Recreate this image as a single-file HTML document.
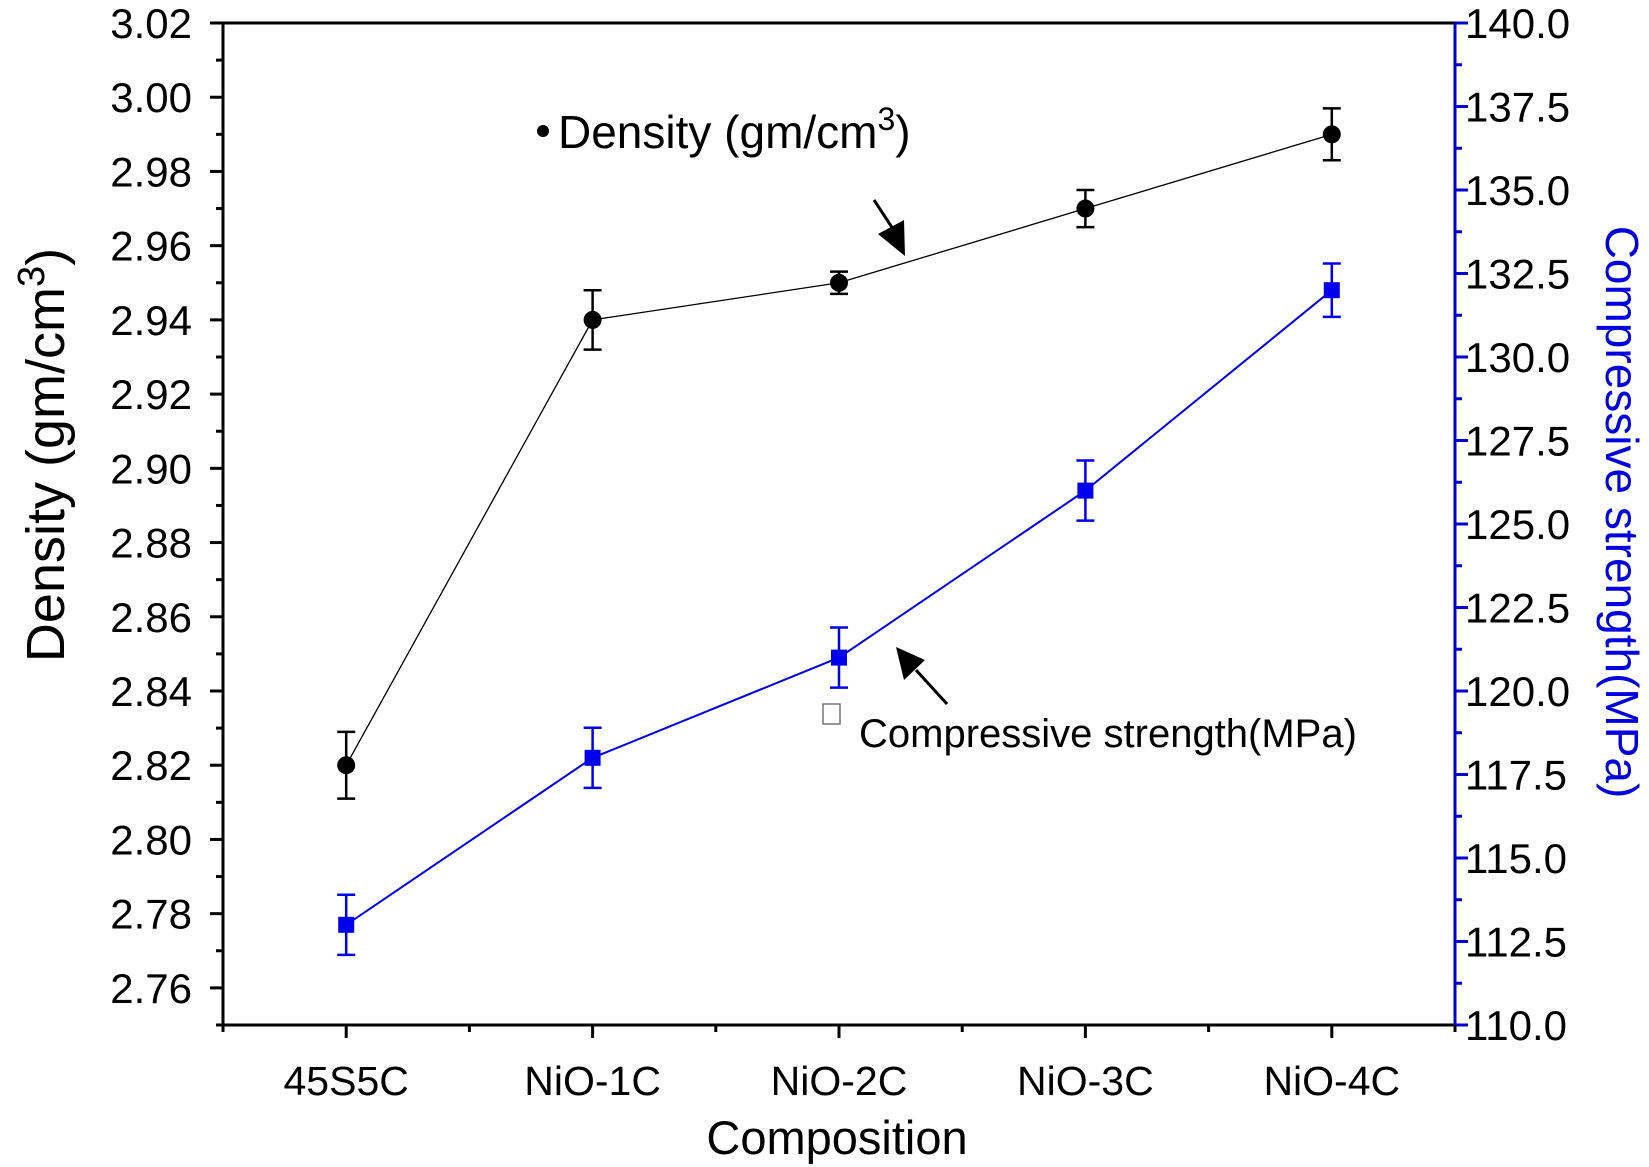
<!DOCTYPE html>
<html><head><meta charset="utf-8"><style>
html,body{margin:0;padding:0;background:#fff}
svg{display:block;font-family:"Liberation Sans",Arial,sans-serif}
</style></head><body>
<svg id="chart" width="1649" height="1167" viewBox="0 0 1649 1167">
<g id="axes"></g><g id="marks"></g>
<text x="558" y="148" font-size="46" fill="#000">Density (gm/cm<tspan dy="-18" font-size="32">3</tspan><tspan dy="18">)</tspan></text>
<circle cx="543" cy="131" r="6" fill="#000"/>
<rect x="823" y="704" width="17" height="20" fill="none" stroke="#777" stroke-width="1.5"/>
<text x="859" y="747" font-size="40" fill="#000">Compressive strength(MPa)</text>
<g>
<line x1="874" y1="200" x2="895" y2="232" stroke="#000" stroke-width="3"/>
<polygon points="905,256 878,234 904,220" fill="#000"/>
</g>
<g>
<line x1="947" y1="704" x2="916" y2="670" stroke="#000" stroke-width="3"/>
<polygon points="896,647 925,660 904,680" fill="#000"/>
</g>
<text transform="translate(64,455) rotate(-90)" text-anchor="middle" font-size="54" fill="#000">Density (gm/cm<tspan dy="-20" font-size="38">3</tspan><tspan dy="20">)</tspan></text>
<text transform="translate(1606,512) rotate(90)" text-anchor="middle" font-size="46" fill="#0000e0">Compressive strength(MPa)</text>
<text x="837" y="1154" text-anchor="middle" font-size="47" fill="#000">Composition</text>
</svg>
<script>
const categories=["45S5C","NiO-1C","NiO-2C","NiO-3C","NiO-4C"];
const density=[2.82,2.94,2.95,2.97,2.99];
const densityErr=[0.009,0.008,0.003,0.005,0.007];
const strength=[113,118,121,126,132];
const strengthErr=[0.9,0.9,0.9,0.9,0.8];
const leftTicks=["2.76","2.78","2.80","2.82","2.84","2.86","2.88","2.90","2.92","2.94","2.96","2.98","3.00","3.02"];
const rightTicks=["110.0","112.5","115.0","117.5","120.0","122.5","125.0","127.5","130.0","132.5","135.0","137.5","140.0"];

const L=223,R=1455,T=23,B=1025;
const xs=i=>L+(i+0.5)/5*(R-L);
const yL=v=>B-(v-2.75)/(3.02-2.75)*(B-T);
const yR=v=>B-(v-110)/(140-110)*(B-T);
const NS="http://www.w3.org/2000/svg";
function mk(tag,attrs,parent){const e=document.createElementNS(NS,tag);for(const k in attrs)e.setAttribute(k,attrs[k]);parent.appendChild(e);return e;}
const ax=document.getElementById('axes'),mg=document.getElementById('marks');

let e;
e=mk('line',{x1:L,y1:T,x2:R,y2:T,stroke:'#000','stroke-width':3},ax);


e=mk('line',{x1:L,y1:T,x2:L,y2:B,stroke:'#000','stroke-width':3},ax);


e=mk('line',{x1:L,y1:B,x2:R,y2:B,stroke:'#000','stroke-width':3},ax);


e=mk('line',{x1:R,y1:T,x2:R,y2:B,stroke:'#0000cc','stroke-width':3},ax);



for(let k=0;k<=27;k++){const v=2.75+k*0.01;const y=yL(v);const major=(k%2===1);
 e=mk('line',{x1:L-(major?13:7),y1:y,x2:L,y2:y,stroke:'#000','stroke-width':3},ax);
 
 }
leftTicks.forEach(t=>{e=mk('text',{x:L-31,y:yL(parseFloat(t))+15,'text-anchor':'end','font-size':42,fill:'#000'},ax);e.textContent=t;
 
 });
for(let k=0;k<=24;k++){const v=110+k*1.25;const y=yR(v);const major=(k%2===0);
 e=mk('line',{x1:R,y1:y,x2:R+(major?13:7),y2:y,stroke:'#0000cc','stroke-width':3},ax);
 
 }
rightTicks.forEach(t=>{e=mk('text',{x:R+10,y:yR(parseFloat(t))+15,'font-size':42,fill:'#000'},ax);e.textContent=t;
 
 });
for(let k=0;k<=10;k++){const x=L+k*(R-L)/10;const major=(k%2===1);
 e=mk('line',{x1:x,y1:B,x2:x,y2:B+(major?13:7),stroke:'#000','stroke-width':3},ax);
 
 }
categories.forEach((c,i)=>{e=mk('text',{x:xs(i),y:B+70,'text-anchor':'middle','font-size':41,fill:'#000'},ax);e.textContent=c;
 
 });

e=mk('polyline',{points:density.map((v,i)=>xs(i)+','+yL(v)).join(' '),fill:'none',stroke:'#000','stroke-width':1.3},mg);


density.forEach((v,i)=>{const x=xs(i),y1=yL(v+densityErr[i]),y2=yL(v-densityErr[i]);
 const g=mk('g',{stroke:'#000','stroke-width':2.5},mg);
 
 
 mk('line',{x1:x,y1:y1,x2:x,y2:y2},g);mk('line',{x1:x-9,y1:y1,x2:x+9,y2:y1},g);mk('line',{x1:x-9,y1:y2,x2:x+9,y2:y2},g);
 e=mk('circle',{cx:x,cy:yL(v),r:9,fill:'#000'},mg);
 
 });

e=mk('polyline',{points:strength.map((v,i)=>xs(i)+','+yR(v)).join(' '),fill:'none',stroke:'#0000ee','stroke-width':2},mg);


strength.forEach((v,i)=>{const x=xs(i),y1=yR(v+strengthErr[i]),y2=yR(v-strengthErr[i]);
 const g=mk('g',{stroke:'#0000ee','stroke-width':2.5},mg);
 
 
 mk('line',{x1:x,y1:y1,x2:x,y2:y2},g);mk('line',{x1:x-9,y1:y1,x2:x+9,y2:y1},g);mk('line',{x1:x-9,y1:y2,x2:x+9,y2:y2},g);
 e=mk('rect',{x:x-8,y:yR(v)-8,width:16,height:16,fill:'#0000ee'},mg);
 
 });
</script>
</body></html>
